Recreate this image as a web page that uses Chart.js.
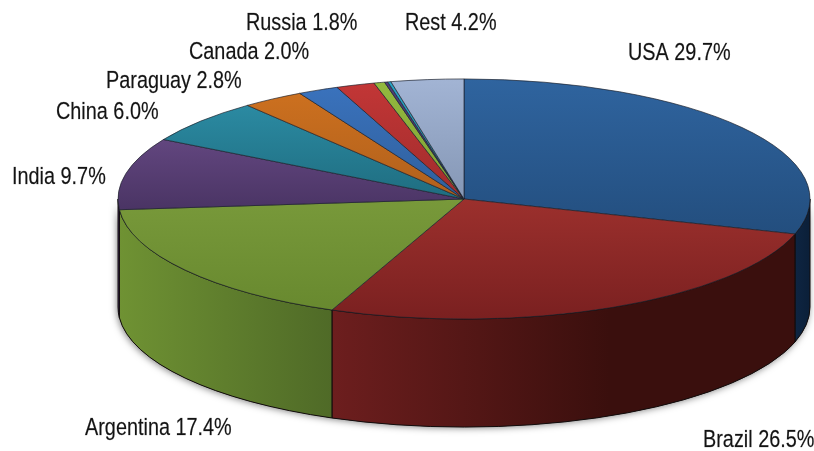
<!DOCTYPE html>
<html>
<head>
<meta charset="utf-8">
<style>
  html, body { margin: 0; padding: 0; background: #fff; }
  canvas { display: block; }
</style>
<script src="https://cdn.jsdelivr.net/npm/chart.js@4/dist/chart.umd.min.js"></script>
</head>
<body>
<canvas id="pieChart" width="814" height="451"></canvas>
<script>
const categories = ['USA', 'Brazil', 'Argentina', 'India', 'China', 'Paraguay', 'Canada', 'Russia', 'Other 1', 'Other 2', 'Other 3', 'Rest'];
const values = [29.8, 26.6, 17.4, 9.7, 6.0, 2.9, 1.9, 1.8, 0.5, 0.15, 0.15, 3.4];
const labelTexts = ['USA 29.7%', 'Brazil 26.5%', 'Argentina 17.4%', 'India 9.7%', 'China 6.0%', 'Paraguay 2.8%', 'Canada 2.0%', 'Russia 1.8%', '', '', '', 'Rest 4.2%'];

const topLight = ['#2f649f', '#9c302d', '#78993a', '#62467f', '#2b8aa2', '#cc701f', '#3a72bc', '#c23636', '#93b93e', '#4f3f78', '#2aa3c4', '#a2b4d4'];
const topDark = ['#234e7e', '#7a2020', '#68892f', '#4a3464', '#1f6d80', '#b0601c', '#2f5f9c', '#a02c2c', '#7fa035', '#3f3060', '#208aa8', '#8597b5'];
const wallLeft = ['#0e2542', '#6d1e1e', '#6f9233', '#3b2b55'];
const wallRight = ['#0b1f38', '#3a0f0d', '#4f6a27', '#3b2b55'];

// label anchors: left x, baseline y
const labelSpots = [[628, 60], [703, 447], [85, 435], [12, 184], [56, 119], [106, 88], [189, 59], [246, 30], null, null, null, [405, 30]];

const centerX = 464;
const centerY = 199;
const pieRadius = 346;
const squash = 0.347;
const wallDepth = 108;

const total = values.reduce((a, b) => a + b, 0);

function sliceGradient(c) {
  const i = c.dataIndex;
  let start = 0;
  for (let n = 0; n < i; n++) start += values[n];
  let minY = 0, maxY = 0;
  for (let s = 0; s <= 40; s++) {
    const t = (start + values[i] * s / 40) / total * Math.PI * 2;
    minY = Math.min(minY, -Math.cos(t));
    maxY = Math.max(maxY, -Math.cos(t));
  }
  const g = c.chart.ctx.createLinearGradient(0, centerY + minY * pieRadius, 0, centerY + maxY * pieRadius);
  g.addColorStop(0, topLight[i]);
  g.addColorStop(1, topDark[i]);
  return g;
}

function wallPath(ctx, x, y, a0, a1) {
  ctx.beginPath();
  ctx.ellipse(x, y, pieRadius, pieRadius * squash, 0, a0, a1);
  ctx.ellipse(x, y + wallDepth, pieRadius, pieRadius * squash, 0, a1, a0, true);
  ctx.closePath();
}

const tiltPlugin = {
  id: 'tilt',
  beforeDatasetsDraw(chart) {
    const ctx = chart.ctx;
    const arcs = chart.getDatasetMeta(0).data;
    const x = arcs[0].x, y = arcs[0].y;

    // soft shadow under the wall
    ctx.save();
    ctx.shadowColor = 'rgba(0,0,0,0.5)';
    ctx.shadowBlur = 7;
    ctx.shadowOffsetX = -1;
    ctx.shadowOffsetY = 1;
    ctx.fillStyle = '#333';
    wallPath(ctx, x, y, 0, Math.PI);
    ctx.fill();
    ctx.restore();

    // side walls, only the part facing the viewer
    arcs.forEach((arc, i) => {
      const a0 = Math.max(arc.startAngle, 0);
      const a1 = Math.min(arc.endAngle, Math.PI);
      if (a1 <= a0 || !wallLeft[i]) return;
      const xa = x + pieRadius * Math.cos(a1);
      const xb = x + pieRadius * Math.cos(a0);
      const g = ctx.createLinearGradient(xa, 0, xb, 0);
      g.addColorStop(0, wallLeft[i]);
      g.addColorStop(i === 1 ? 0.6 : 1, wallRight[i]);
      if (i === 1) g.addColorStop(1, wallRight[i]);
      ctx.fillStyle = g;
      ctx.strokeStyle = '#120c0c';
      ctx.lineWidth = 1;
      wallPath(ctx, x, y, a0, a1);
      ctx.fill();
      ctx.stroke();
    });

    ctx.save();
    ctx.translate(0, y);
    ctx.scale(1, squash);
    ctx.translate(0, -y);
  },
  afterDatasetsDraw(chart) {
    const ctx = chart.ctx;
    ctx.restore();

    ctx.save();
    ctx.fillStyle = '#141414';
    ctx.strokeStyle = 'rgba(20,20,20,0.45)';
    ctx.lineWidth = 0.4;
    ctx.font = '24.5px "Liberation Sans"';
    ctx.textBaseline = 'alphabetic';
    labelTexts.forEach((text, i) => {
      if (!text) return;
      ctx.save();
      ctx.translate(labelSpots[i][0], labelSpots[i][1]);
      ctx.scale(0.81, 1);
      ctx.fillText(text, 0, 0);
      ctx.strokeText(text, 0, 0);
      ctx.restore();
    });
    ctx.restore();
  }
};

new Chart(document.getElementById('pieChart').getContext('2d'), {
  type: 'pie',
  data: {
    labels: categories,
    datasets: [{
      data: values,
      backgroundColor: sliceGradient,
      borderColor: '#1b1f2a',
      borderWidth: 1,
      clip: false
    }]
  },
  options: {
    responsive: false,
    animation: false,
    radius: pieRadius,
    layout: { padding: { left: 2 * centerX - 814, right: 0, top: 0, bottom: 451 - 2 * centerY } },
    plugins: {
      legend: { display: false },
      title: { display: false },
      tooltip: { enabled: false }
    }
  },
  plugins: [tiltPlugin]
});
</script>
</body>
</html>
